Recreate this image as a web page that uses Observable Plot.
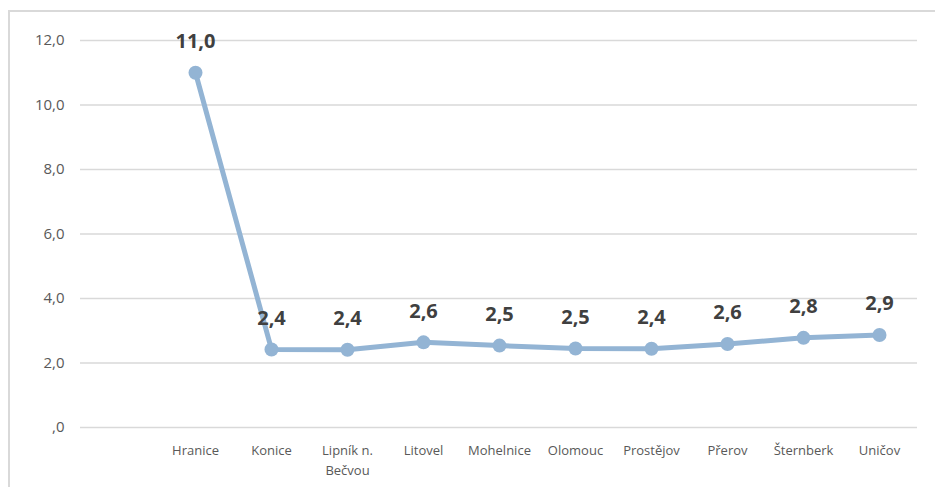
<!DOCTYPE html>
<html>
<head>
<meta charset="utf-8">
<script src="https://cdn.jsdelivr.net/npm/d3@7"></script>
<script src="https://cdn.jsdelivr.net/npm/@observablehq/plot@0.6"></script>
<style>
  html, body { margin: 0; padding: 0; background: #fff; }
  #wrap { position: relative; width: 935px; height: 487px; overflow: hidden; }
  #frame { position: absolute; left: 8px; top: 10px; width: 940px; height: 490px;
           border-left: 2px solid #d9d9d9; border-top: 2px solid #d9d9d9; box-sizing: border-box; }
  #chart { position: absolute; left: 0; top: 0; }
</style>
</head>
<body>
<div id="wrap"><div id="frame"></div><div id="chart"></div></div>
<script>
const categories = ["", "Hranice", "Konice", "Lipník n.\nBečvou", "Litovel", "Mohelnice", "Olomouc", "Prostějov", "Přerov", "Šternberk", "Uničov"];
const cities = ["Hranice", "Konice", "Lipník n.\nBečvou", "Litovel", "Mohelnice", "Olomouc", "Prostějov", "Přerov", "Šternberk", "Uničov"];
const values = [11.0, 2.42, 2.41, 2.64, 2.54, 2.45, 2.44, 2.59, 2.78, 2.87];
const labels = ["11,0", "2,4", "2,4", "2,6", "2,5", "2,5", "2,4", "2,6", "2,8", "2,9"];
const yTicks = [0, 2, 4, 6, 8, 10, 12];

const data = cities.map((c, i) => ({city: c, value: values[i], label: labels[i]}));
const fmtY = d => d === 0 ? ",0" : d.toFixed(1).replace(".", ",");

const chart = Plot.plot({
  width: 935,
  height: 487,
  marginLeft: 80,
  marginRight: 18,
  marginTop: 40,
  marginBottom: 60,
  style: {background: "transparent", fontFamily: "'Open Sans', sans-serif"},
  x: {type: "point", domain: categories, padding: 0.5, label: null},
  y: {domain: [0, 12], label: null},
  marks: [
    Plot.ruleY(yTicks, {stroke: "#d9d9d9", strokeWidth: 1.5}),
    Plot.axisY({ticks: yTicks, tickFormat: fmtY, tickSize: 0, tickPadding: 16,
                fontSize: 15, fill: "#595959", label: null}),
    Plot.axisX({tickSize: 0, tickPadding: 14, fontSize: 13, fill: "#595959",
                lineHeight: 1.5, label: null}),
    Plot.line(data, {x: "city", y: "value", stroke: "#93b4d4", strokeWidth: 5}),
    Plot.dot(data, {x: "city", y: "value", r: 7, fill: "#93b4d4", stroke: "none"}),
    Plot.text(data, {x: "city", y: "value", text: "label", dy: -31,
                     fontSize: 20, fontWeight: "bold", fill: "#404040"})
  ]
});
document.getElementById("chart").appendChild(chart);
</script>
</body>
</html>
